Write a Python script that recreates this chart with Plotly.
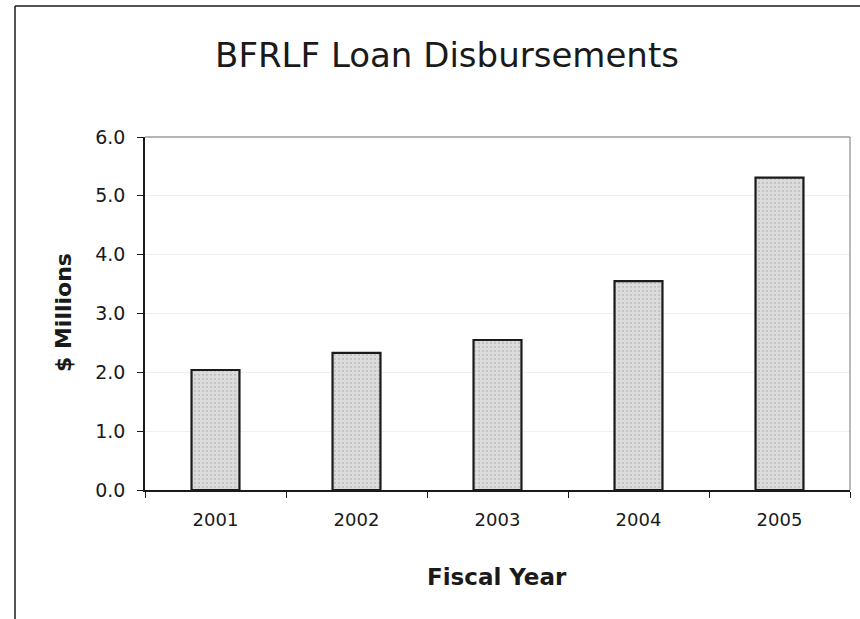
import plotly.graph_objects as go

# Loan disbursements by fiscal year, in $ millions
fiscal_years = ["2001", "2002", "2003", "2004", "2005"]
disbursements = [2.04, 2.33, 2.55, 3.55, 5.31]
y_ticks = [0, 1, 2, 3, 4, 5, 6]
y_tick_labels = ["0.0", "1.0", "2.0", "3.0", "4.0", "5.0", "6.0"]

FONT = "DejaVu Sans, Liberation Sans, Arial, sans-serif"
INK = "#1a1a1a"

# plot area in pixels
L, R, T, B = 145, 850, 137, 490
W, H = 860, 619


def px_x(px):
    return (px - L) / (R - L)


def px_y(py):
    return (B - py) / (B - T)


fig = go.Figure()
fig.add_trace(go.Bar(
    x=fiscal_years,
    y=disbursements,
    width=0.34,
    marker=dict(
        color="#d6d6d6",
        line=dict(color=INK, width=2.2),
        pattern=dict(shape=".", fgcolor="#a8a8a8", bgcolor="#dcdcdc", size=4, solidity=0.25),
    ),
    hoverinfo="x+y",
))

fig.update_layout(
    width=W,
    height=H,
    margin=dict(l=L, r=W - R, t=T, b=H - B),
    paper_bgcolor="white",
    plot_bgcolor="white",
    showlegend=False,
    font=dict(family=FONT, color=INK),
    title=dict(
        text="BFRLF Loan Disbursements",
        x=447 / W, xanchor="center",
        y=1 - 55 / H, yanchor="middle",
        font=dict(size=34, family=FONT, color=INK),
    ),
)

fig.update_xaxes(
    type="category",
    showline=True, linecolor=INK, linewidth=1.5,
    ticks="outside", ticklen=6, tickcolor=INK, tickwidth=1,
    tickson="boundaries",
    showgrid=False,
    ticklabelstandoff=13,
    tickfont=dict(size=18, family=FONT, color=INK),
)
fig.update_yaxes(
    range=[0, 6],
    tickvals=y_ticks, ticktext=y_tick_labels,
    showline=True, linecolor=INK, linewidth=1.5,
    ticks="outside", ticklen=6, tickcolor=INK, tickwidth=1,
    showgrid=True, gridcolor="#f0f0f0", gridwidth=1,
    zeroline=False,
    ticklabelstandoff=8,
    tickfont=dict(size=19, family=FONT, color=INK),
)

# Axis titles
fig.add_annotation(text="<b>Fiscal Year</b>", xref="paper", yref="paper",
                   x=px_x(497), y=px_y(577), xanchor="center", yanchor="middle",
                   showarrow=False, font=dict(size=23, family=FONT, color=INK))
fig.add_annotation(text="<b>$ Millions</b>", xref="paper", yref="paper",
                   x=px_x(63), y=px_y(313), xanchor="center", yanchor="middle",
                   textangle=-90, showarrow=False, font=dict(size=22, family=FONT, color=INK))

# Plot-area frame on the top and right sides
fig.add_shape(type="line", xref="paper", yref="paper", x0=0, x1=1, y0=1, y1=1,
              line=dict(color="#6a6a6a", width=1.2))
fig.add_shape(type="line", xref="paper", yref="paper", x0=1, x1=1, y0=0, y1=1,
              line=dict(color="#8a8a8a", width=1.2))

# Outer chart border (left and top edges)
fig.add_shape(type="line", xref="paper", yref="paper", x0=px_x(15), x1=px_x(15), y0=px_y(H), y1=px_y(6),
              line=dict(color=INK, width=1.5))
fig.add_shape(type="line", xref="paper", yref="paper", x0=px_x(15), x1=px_x(W + 5), y0=px_y(6), y1=px_y(6),
              line=dict(color=INK, width=1.5))

fig.write_html("out.html")
